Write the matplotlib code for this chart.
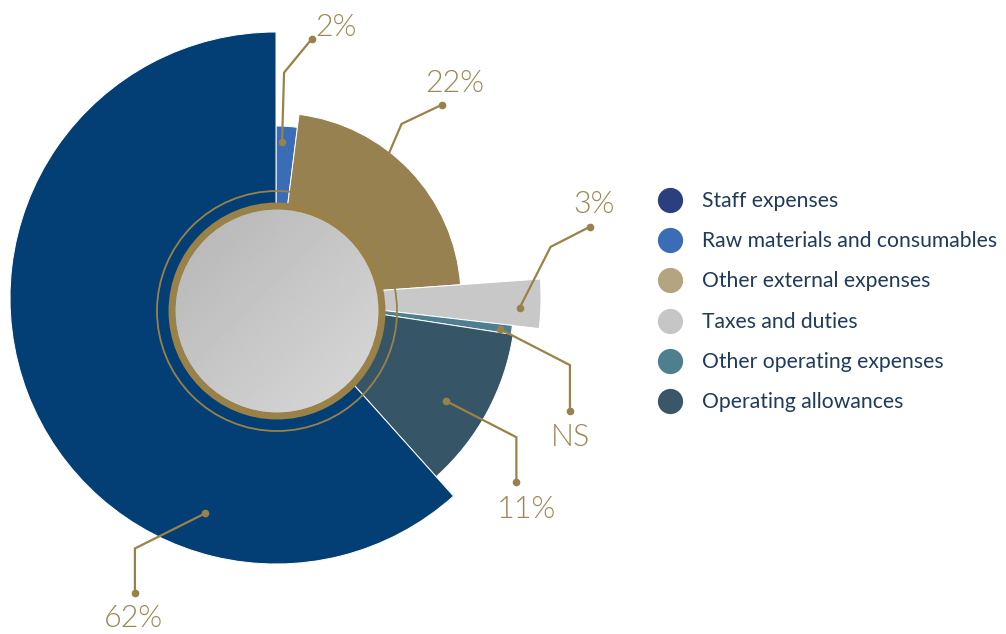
import numpy as np
import matplotlib.pyplot as plt
from matplotlib.patches import Wedge, Circle

# cost breakdown (share of total, %) and the outer radius of each slice
categories = ["Raw materials and consumables", "Other external expenses", "Taxes and duties",
              "Other operating expenses", "Operating allowances", "Staff expenses"]
shares = [2, 22, 3, 0.6, 11, 62]
radii = [172, 185, 265, 238, 240, 266]
labels = ["2%", "22%", "3%", "NS", "11%", "62%"]

slice_colors = ["#3a6db5", "#978150", "#c8c8c8", "#4d7f91", "#365667", "#033f74"]

legend_names = ["Staff expenses", "Raw materials and consumables", "Other external expenses",
                "Taxes and duties", "Other operating expenses", "Operating allowances"]
legend_colors = ["#2b3e7e", "#3a6db4", "#b3a57f", "#c6c6c6", "#4f7f8f", "#3a5768"]

gold = "#9a8148"
label_gold = "#9d8653"

W, H = 1006, 634
fig = plt.figure(figsize=(W / 100, H / 100), dpi=100)
ax = fig.add_axes([0, 0, 1, 1])

cx, cy = 276, 298      # pie centre
dx_, dy_ = 277, 311    # centre of the grey disc

# slices run clockwise from 12 o'clock (y axis is flipped, so +angle is clockwise)
total = sum(shares)
angles = np.cumsum([0] + [s / total * 360 for s in shares])
for i, (r, c) in enumerate(zip(radii, slice_colors)):
    ax.add_patch(Wedge((cx, cy), r, angles[i] - 90, angles[i + 1] - 90,
                       facecolor=c, edgecolor="white", linewidth=0.7, zorder=2))

# grey gradient disc with gold rings
disc_r = 102
grad = np.linspace(0, 1, 200)
gx, gy = np.meshgrid(grad, grad)
img = 0.71 + 0.14 * (gx + gy) / 2
im = ax.imshow(img, cmap="gray", vmin=0, vmax=1,
               extent=[dx_ - disc_r, dx_ + disc_r, dy_ + disc_r, dy_ - disc_r], zorder=3)
im.set_clip_path(Circle((dx_, dy_), disc_r, transform=ax.transData))
ax.add_patch(Circle((dx_, dy_), 105, fill=False, edgecolor=gold, linewidth=5.0, zorder=4))
ax.add_patch(Circle((dx_, dy_), 120, fill=False, edgecolor=gold, linewidth=1.3, zorder=4))

ax.set_xlim(0, W)
ax.set_ylim(H, 0)
ax.axis("off")

# leader lines: anchor inside slice (fraction of span, fraction of radius),
# then elbow and end offsets in pixels
anchors = [(0.31, 0.91), (0.39, 1.0), (0.6, 0.92), (0.6, 0.95), (0.57, 0.83), (0.271, 0.853)]
bends = [((2, -69), (30, -103)),
         ((12, -28), (52, -47)),
         ((31, -61), (70, -81)),
         ((70, 36), (70, 82)),
         ((70, 36), (70, 81)),
         ((-70, 35), (-70, 80))]
dot_start = [True, False, True, True, True, True]
text_off = [(3, -3, "left", "baseline"), (13, -13, "center", "baseline"),
            (4, -14, "center", "baseline"), (1, 35, "center", "baseline"),
            (10, 36, "center", "baseline"), (-1, 34, "center", "baseline")]

for i in range(len(shares)):
    fa, fr = anchors[i]
    a = np.deg2rad(angles[i] + fa * (angles[i + 1] - angles[i]) - 90)
    x0 = cx + fr * radii[i] * np.cos(a)
    y0 = cy + fr * radii[i] * np.sin(a)
    (ex, ey), (tx, ty) = bends[i]
    xs = [x0, x0 + ex, x0 + tx]
    ys = [y0, y0 + ey, y0 + ty]
    ax.plot(xs, ys, color=gold, linewidth=1.6, solid_joinstyle="miter", zorder=5)
    ax.plot(xs[2], ys[2], "o", color=gold, markersize=4.5, zorder=5)
    if dot_start[i]:
        ax.plot(xs[0], ys[0], "o", color=gold, markersize=4.5, zorder=5)
    ox, oy, ha, va = text_off[i]
    ax.text(xs[2] + ox, ys[2] + oy, labels[i], color=label_gold, fontsize=22,
            family="Lato", fontweight=300, ha=ha, va=va, zorder=6)

# legend
for k, (name, c) in enumerate(zip(legend_names, legend_colors)):
    ly = 199.8 + k * 40.3
    ax.scatter([669.7], [ly], s=330, color=c, linewidths=0, zorder=5)
    ax.text(702, ly + 7, name, color="#1f3a5c", fontsize=15.2, family="Lato",
            ha="left", va="baseline", zorder=5)

fig.savefig("out.png", dpi=100)
